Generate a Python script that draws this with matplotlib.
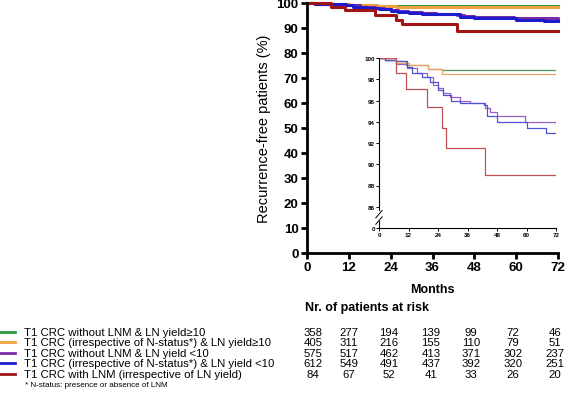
import numpy as np
import matplotlib
matplotlib.use("Agg")
import matplotlib.pyplot as plt
from matplotlib.lines import Line2D

plt.rcParams['font.family'] = ['Liberation Sans', 'DejaVu Sans']

# Kaplan-Meier steps (months, % recurrence-free)
green_t = [0, 2.4, 6.8, 10.8, 20, 25.5, 72]
green_s = [100, 99.8, 99.7, 99.3, 99.0, 98.83, 98.83]
orange_t = [0, 2.4, 6.8, 12, 20, 25.5, 72]
orange_s = [100, 99.8, 99.5, 99.3, 99.0, 98.45, 98.45]
purple_t = [0, 2.4, 6.8, 11.3, 15.3, 19.4, 22, 24, 26, 29, 33, 37, 43, 45, 48, 59.4, 72]
purple_s = [100, 99.8, 99.4, 99.1, 98.6, 98.2, 97.5, 97.2, 96.7, 96.3, 96.0, 95.8, 95.3, 94.9, 94.5, 94.0, 93.6]
blue_t = [0, 2.4, 6.8, 11.3, 13.3, 17.3, 20.7, 24, 26, 29.4, 33, 42.6, 43.9, 48, 60, 68, 72]
blue_s = [100, 99.8, 99.7, 99.2, 98.6, 98.2, 97.7, 97.0, 96.5, 96.0, 95.8, 95.6, 94.5, 94.0, 93.4, 92.9, 92.9]
red_t = [0, 6.8, 10.8, 19.4, 25.5, 27.3, 43, 72]
red_s = [100, 98.6, 97.1, 95.4, 93.4, 91.5, 89.0, 89.0]

groups = [
    "T1 CRC without LNM & LN yield\u226510",
    "T1 CRC (irrespective of N-status*) & LN yield\u226510",
    "T1 CRC without LNM & LN yield <10",
    "T1 CRC (irrespective of N-status*) & LN yield <10",
    "T1 CRC with LNM (irrespective of LN yield)",
]
risk_months = [0, 12, 24, 36, 48, 60, 72]
at_risk = [
    [358, 277, 194, 139, 99, 72, 46],
    [405, 311, 216, 155, 110, 79, 51],
    [575, 517, 462, 413, 371, 302, 237],
    [612, 549, 491, 437, 392, 320, 251],
    [84, 67, 52, 41, 33, 26, 20],
]

main_colors = ['#2e9a3a', '#f0a040', '#7b2aa8', '#1c1ccc', '#a01414']
inset_colors = ['#4a9a5a', '#f0a060', '#9a60c0', '#5050d8', '#c05050']
curves = [(green_t, green_s), (orange_t, orange_s), (purple_t, purple_s),
          (blue_t, blue_s), (red_t, red_s)]

W, H = 567, 414
fig = plt.figure(figsize=(W / 100, H / 100), dpi=100)

# main axes
ax = fig.add_axes([307 / W, 1 - 254 / H, 251 / W, 250 / H])
for (t, s), c in zip(curves, main_colors):
    ax.step(t, s, where='post', color=c, lw=2.2, clip_on=False)
ax.set_xlim(0, 72)
ax.set_ylim(0, 100)
ax.set_xticks(risk_months)
ax.set_yticks(np.arange(0, 101, 10))
for lab in ax.get_xticklabels() + ax.get_yticklabels():
    lab.set_fontweight('bold')
ax.tick_params(labelsize=9.5, width=2, length=4, pad=2)
for sp in ['top', 'right']:
    ax.spines[sp].set_visible(False)
for sp in ['left', 'bottom']:
    ax.spines[sp].set_linewidth(2)
ax.set_ylabel('Recurrence-free patients (%)', fontsize=10.5, labelpad=4)
ax.set_xlabel('Months', fontsize=9, fontweight='bold', labelpad=7)

# inset with broken y axis (0 shown at 84)
ins = fig.add_axes([379 / W, 1 - 229 / H, 177 / W, 170 / H])
for (t, s), c in zip(curves, inset_colors):
    ins.step(t, s, where='post', color=c, lw=0.9)
ins.set_xlim(0, 72)
ins.set_ylim(84, 100)
ins.set_xticks(risk_months)
ins.set_yticks([84, 86, 88, 90, 92, 94, 96, 98, 100])
ins.set_yticklabels(['0', '86', '88', '90', '92', '94', '96', '98', '100'])
ins.tick_params(labelsize=4.5, width=0.7, length=2, pad=1)
for lab in ins.get_xticklabels() + ins.get_yticklabels():
    lab.set_fontweight('bold')
for sp in ['top', 'right']:
    ins.spines[sp].set_visible(False)
for sp in ['left', 'bottom']:
    ins.spines[sp].set_linewidth(0.8)
ins.patch.set_alpha(0)
ins.spines['left'].set_bounds(85.7, 100)
ins.plot([0, 0], [84, 84.7], color='black', lw=0.8, clip_on=False)
for yb in [84.7, 85.3]:
    ins.plot([-1.3, 1.3], [yb - 0.35, yb + 0.35], color='black', lw=0.7, clip_on=False)

# overlay in pixel coordinates for legend and risk table
ov = fig.add_axes([0, 0, 1, 1])
ov.set_xlim(0, W)
ov.set_ylim(H, 0)
ov.axis('off')

ov.text(305, 308, 'Nr. of patients at risk', fontsize=9, fontweight='bold',
        ha='left', va='center')
row_y = [333, 343, 354, 364, 375]
col_x = [313, 349, 389, 431, 471, 513, 555]
for i, (name, c) in enumerate(zip(groups, main_colors)):
    y = row_y[i]
    ov.add_line(Line2D([0, 15], [y, y], color=c, lw=2))
    ov.text(24, y, name, fontsize=8.2, ha='left', va='center')
    for x, n in zip(col_x, at_risk[i]):
        ov.text(x, y, str(n), fontsize=8.2, ha='center', va='center')
ov.text(25, 386, '* N-status: presence or absence of LNM', fontsize=5.8,
        ha='left', va='center')

fig.savefig('out.png', dpi=100)
